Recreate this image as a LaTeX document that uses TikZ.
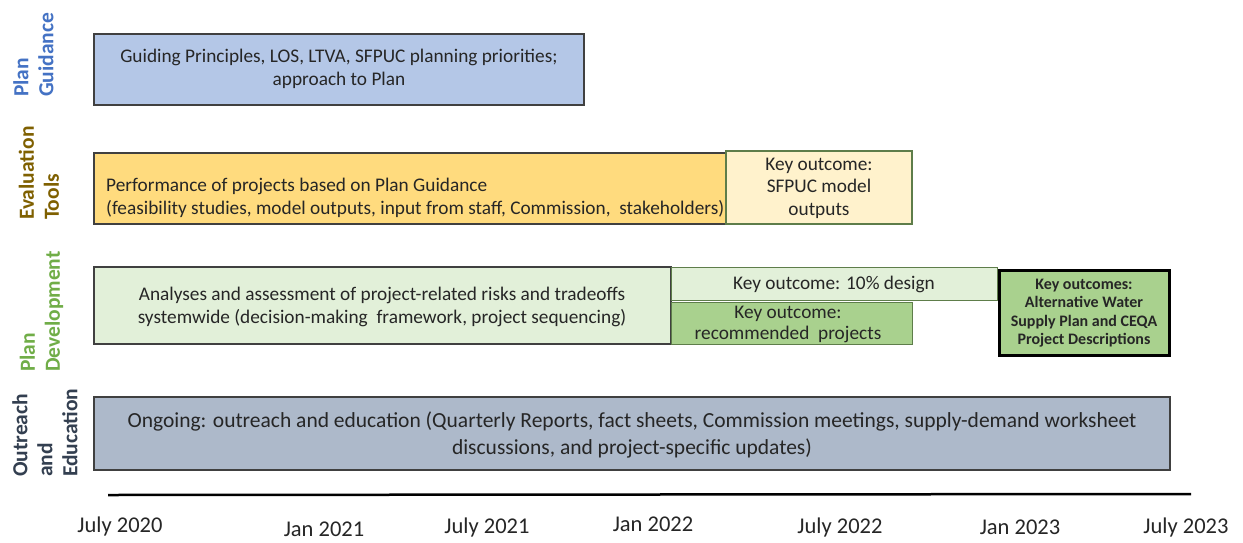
\documentclass[tikz,border=0pt]{standalone}
\usepackage{fontspec}
\setmainfont{Carlito}
\begin{document}
\begin{tikzpicture}[x=1pt,y=-1pt,
  bar/.style={draw=#1, line width=1.2pt, inner sep=0pt},
  btxt/.style={font=\fontsize{19.3}{22.5}\selectfont, align=center, text=black!85},
  side/.style={font=\bfseries\fontsize{21.5}{25}\selectfont, rotate=90, align=left, anchor=west, inner sep=0pt},
  datelbl/.style={font=\fontsize{22.5}{24}\selectfont, text=black!85}]
\definecolor{pgblue}{HTML}{B4C7E7}
\definecolor{pgtxt}{HTML}{4472C4}
\definecolor{evorange}{HTML}{FFDB7E}
\definecolor{evlight}{HTML}{FFF2CC}
\definecolor{evtxt}{HTML}{7F6000}
\definecolor{pdlight}{HTML}{E2F0D9}
\definecolor{pdmid}{HTML}{A9D18E}
\definecolor{pdtxt}{HTML}{70AD47}
\definecolor{oegray}{HTML}{ADB9CA}
\definecolor{oetxt}{HTML}{333F50}
\definecolor{boxline}{HTML}{404040}
\definecolor{grline}{HTML}{5E7D4A}
\useasboundingbox (0,0) rectangle (1243,542);
\fill[white] (0,0) rectangle (1243,542);
% side labels
\node[side, text=pgtxt] (lpg) at (33.5,97) {Plan\\Guidance};
\node[side, text=evtxt] (lev) at (39,220) {Evaluation\\Tools};
\node[side, text=pdtxt] (lpd) at (41.5,372) {Plan\\Development};
\node[side, text=oetxt] (loe) at (45,477) {Outreach\\and\\Education};
% Plan Guidance
\draw[bar=boxline, fill=pgblue] (94,34) rectangle (584,105);
\node[btxt] (pg) at (339,69) {Guiding Principles, LOS, LTVA, SFPUC planning priorities;\\approach to Plan};
% Evaluation
\draw[bar=boxline, fill=evorange] (94,153) rectangle (726,224);
\node[btxt, align=left, anchor=west, inner sep=0pt] (ev) at (106,198) {Performance of projects based on Plan Guidance\\(feasibility studies, model outputs, input from staff, Commission,\ \ stakeholders)};
\draw[bar=grline, fill=evlight] (726,151) rectangle (912,224);
\node[btxt] (evk) at (819,188) {Key outcome:\\SFPUC model\\outputs};
% Plan Development
\draw[bar=boxline, fill=pdlight] (94,267) rectangle (671,344);
\node[btxt] (pd) at (382,307) {Analyses and assessment of project-related risks and tradeoffs\\systemwide (decision-making\ \ framework, project sequencing)};
\draw[bar=grline, line width=0.8pt, fill=pdlight] (671,267) rectangle (997,300);
\node[btxt] (pd10) at (834,284) {Key outcome: 10\% design};
\draw[bar=grline, line width=0.8pt, fill=pdmid] (671,302) rectangle (912,344);
\node[btxt, font=\fontsize{19.3}{21}\selectfont] (pdrec) at (788,324) {Key outcome:\\recommended\ \ projects};
\draw[draw=black, line width=3pt, fill=pdmid] (999,270) rectangle (1169,355);
\node[btxt, font=\bfseries\fontsize{16}{18.5}\selectfont] (pdk) at (1084,313) {Key outcomes:\\Alternative Water\\Supply Plan and CEQA\\Project Descriptions};
% Outreach
\draw[bar=boxline, fill=oegray] (94,397) rectangle (1170,470);
\node[btxt, font=\fontsize{21.5}{27}\selectfont] (oe) at (632,435) {Ongoing: outreach and education (Quarterly Reports, fact sheets, Commission meetings, supply-demand worksheet\\discussions, and project-specific updates)};
% axis
\coordinate (a0) at (108,495);
\coordinate (a1) at (1191,494);
\draw[line width=2.5pt] (a0) -- (a1);
\node[datelbl] (d1) at (120,526) {July 2020};
\node[datelbl] (d2) at (324,529) {Jan 2021};
\node[datelbl] (d3) at (487,527) {July 2021};
\node[datelbl] (d4) at (653,524) {Jan 2022};
\node[datelbl] (d5) at (840,527) {July 2022};
\node[datelbl] (d6) at (1020,527) {Jan 2023};
\node[datelbl] (d7) at (1186,527) {July 2023};
\end{tikzpicture}
\end{document}
